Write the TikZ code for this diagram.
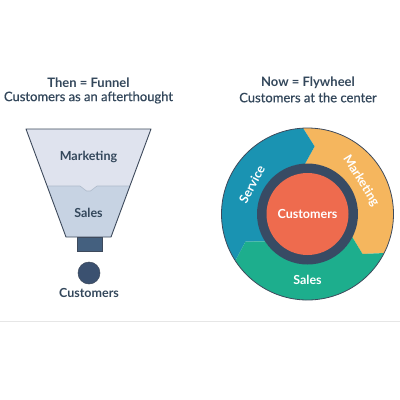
\documentclass[tikz,border=0pt]{standalone}
\usepackage{fontspec}
\setmainfont{Lato}
\newfontfamily\semifont[FakeBold=0.6]{Lato}
\definecolor{txt}{HTML}{33475B}
\definecolor{fuTop}{HTML}{DFE3EE}
\definecolor{fuBot}{HTML}{C7D3E3}
\definecolor{fuLine}{HTML}{3E4A5C}
\definecolor{fuSep}{HTML}{AEBACA}
\definecolor{stem}{HTML}{44607F}
\definecolor{dot}{HTML}{3B5170}
\definecolor{ring}{HTML}{384B64}
\definecolor{cust}{HTML}{EE6B4E}
\definecolor{svc}{HTML}{1A93B2}
\definecolor{mkt}{HTML}{F5B65E}
\definecolor{sls}{HTML}{1DAE8D}
\definecolor{rule}{HTML}{E6E6E6}
\begin{document}
\begin{tikzpicture}[x=1pt,y=1pt,
  title/.style={text=txt,font=\bfseries\fontsize{13}{15}\selectfont,inner sep=0},
  subtitle/.style={text=txt,font=\semifont\fontsize{13}{15}\selectfont,inner sep=0},
  flabel/.style={text=txt,font=\bfseries\fontsize{12.5}{15}\selectfont,inner sep=0},
  wlabel/.style={text=white,font=\bfseries\fontsize{12.5}{15}\selectfont,inner sep=0}]
\useasboundingbox[fill=white] (0,0) rectangle (400,-400);
% rule
\coordinate (rl) at (0,-321);
\coordinate (rr) at (400,-321);
\draw[rule,line width=1pt] (rl) -- (rr);
% titles
\node[title] (t1) at (88.5,-83) {Then = Funnel};
\node[subtitle] (s1) at (88.5,-97.5) {Customers as an afterthought};
\node[title] (t2) at (308,-83) {Now = Flywheel};
\node[subtitle] (s2) at (308,-97.5) {Customers at the center};
% funnel
\fill[fuTop] (26,-129) -- (151,-129) -- (129.9,-186) -- (97,-186) -- (90.5,-191) -- (86.5,-191) -- (80,-186) -- (47.1,-186) -- cycle;
\fill[fuBot] (47.1,-186) -- (80,-186) -- (86.5,-191) -- (90.5,-191) -- (97,-186) -- (129.9,-186) -- (111,-237) -- (66,-237) -- cycle;
\draw[fuSep,line width=0.6pt] (47.1,-186) -- (80,-186) -- (86.5,-191) -- (90.5,-191) -- (97,-186) -- (129.9,-186);
\draw[fuLine,line width=0.9pt,line join=round] (26,-129) -- (151,-129) -- (111,-237) -- (66,-237) -- cycle;
\draw[fuLine,fill=stem,line width=0.8pt] (77,-237) rectangle (102,-251);
\node[circle,fill=dot,draw=fuLine,line width=0.5pt,minimum size=22pt,inner sep=0] (cdot) at (89,-273) {};
\node[flabel] (fm) at (88.5,-157) {Marketing};
\node[flabel] (fs) at (88.5,-213) {Sales};
\node[flabel] (fc2) at (89,-293) {Customers};
% flywheel
\coordinate (fc) at (307.5,-214);
\fill[mkt] ([shift={(93:86)}]fc) arc[start angle=93,end angle=-27,radius=86]
  -- ([shift={(-36:68)}]fc) -- ([shift={(-27:50)}]fc)
  arc[start angle=-27,end angle=93,radius=50] -- ([shift={(84:68)}]fc) -- cycle;
\fill[svc] ([shift={(213:86)}]fc) arc[start angle=213,end angle=93,radius=86]
  -- ([shift={(84:68)}]fc) -- ([shift={(93:50)}]fc)
  arc[start angle=93,end angle=213,radius=50] -- ([shift={(204:68)}]fc) -- cycle;
\fill[sls] ([shift={(-27:86)}]fc) arc[start angle=-27,end angle=-147,radius=86]
  -- ([shift={(-156:68)}]fc) -- ([shift={(-147:50)}]fc)
  arc[start angle=-147,end angle=-27,radius=50] -- ([shift={(-36:68)}]fc) -- cycle;
\draw[fuLine,line width=0.8pt] (fc) circle[radius=86];
\fill[ring] (fc) circle[radius=50.5];
\node[circle,fill=cust,minimum size=82pt,inner sep=0,wlabel] (cust) at (fc) {Customers};
\node[wlabel,rotate=-58] (mk) at ([shift={(32:63)}]fc) {Marketing};
\node[wlabel,rotate=62] (sv) at ([shift={(152:63)}]fc) {Service};
\node[wlabel] (sl) at ([shift={(-90:66)}]fc) {Sales};
\end{tikzpicture}
\end{document}
